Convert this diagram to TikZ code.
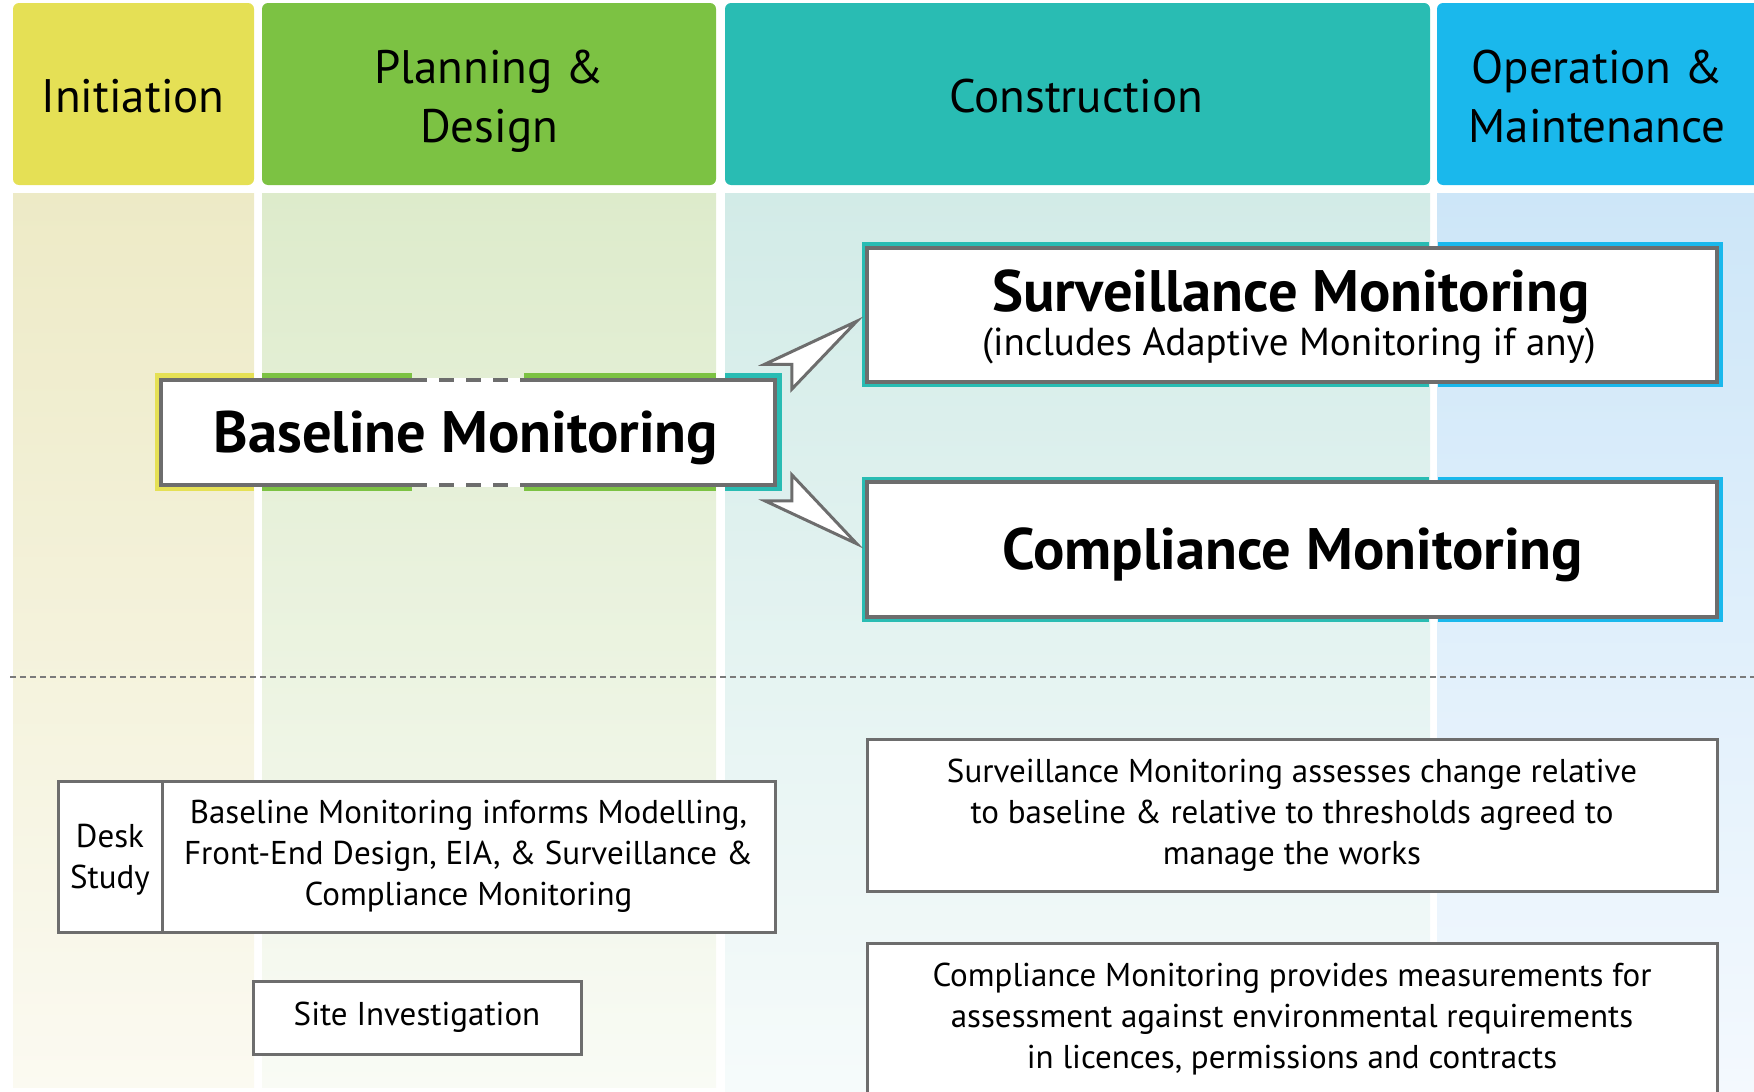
\documentclass[tikz,border=0pt]{standalone}
\usepackage{fontspec}
\setmainfont{PT Sans}
\usetikzlibrary{calc}

% phase colours
\definecolor{cInit}{HTML}{E5E055}
\definecolor{cPlan}{HTML}{7CC243}
\definecolor{cCons}{HTML}{29BCB3}
\definecolor{cOper}{HTML}{1AB8EC}
% column washes (top / bottom)
\definecolor{wInitT}{HTML}{EDEAC6}
\definecolor{wInitB}{HTML}{FBFAF1}
\definecolor{wPlanT}{HTML}{DDEBCB}
\definecolor{wPlanB}{HTML}{F9FBF5}
\definecolor{wConsT}{HTML}{D2EBE7}
\definecolor{wConsB}{HTML}{F6FBFB}
\definecolor{wOperT}{HTML}{CDE6F8}
\definecolor{wOperB}{HTML}{F4F9FE}
\definecolor{edge}{HTML}{6D6D6D}
\definecolor{rule}{HTML}{7A7A7A}

\newcommand\hdrsize{\fontsize{47}{59}\selectfont}
\newcommand\ttlsize{\fontsize{58.5}{66}\selectfont\bfseries}
\newcommand\subsize{\fontsize{39}{46}\selectfont}
\newcommand\txtsize{\fontsize{33}{41}\selectfont}

\begin{document}
\begin{tikzpicture}[x=1pt,y=-1pt,
  hdr/.style={rounded corners=6pt, minimum height=182, inner sep=0pt,
              align=center, font=\hdrsize, text=black},
  hdrtext/.style={align=center, font=\hdrsize, inner sep=0pt},
  box/.style={draw=edge, line width=3.5pt, fill=white, inner sep=0pt},
  notebox/.style={draw=edge, line width=3pt, fill=white, inner sep=0pt,
                  align=center, font=\txtsize},
  title/.style={anchor=base, inner sep=0pt, font=\ttlsize},
  subtitle/.style={anchor=base, inner sep=0pt, font=\subsize},
  pointer/.style={draw=edge, line width=3pt, fill=white, line join=miter}
]
\useasboundingbox (0,0) rectangle (1754,1092);
\clip (0,0) rectangle (1754,1092);

% column washes
\shade[top color=wInitT, bottom color=wInitB] (13,193) rectangle (254,1087);
\shade[top color=wPlanT, bottom color=wPlanB] (262,193) rectangle (716,1087);
\shade[top color=wConsT, bottom color=wConsB] (725,193) rectangle (1430,1092);
\shade[top color=wOperT, bottom color=wOperB] (1437,193) rectangle (1754,1092);

% phase headers
\node[hdr, fill=cInit, minimum width=241] (hInit) at (133.5,94) {};
\node[hdrtext] (hInitT) at (133,96) {Initiation};
\node[hdr, fill=cPlan, minimum width=454] (hPlan) at (489,94) {};
\node[hdrtext] (hPlanT) at (489,101) {Planning \&\\Design};
\node[hdr, fill=cCons, minimum width=705] (hCons) at (1077.5,94) {};
\node[hdrtext] (hConsT) at (1076,96) {Construction};
\node[hdr, fill=cOper, minimum width=330] (hOper) at (1602,94) {};
\node[hdrtext] (hOperT) at (1597,97) {Operation \&\\Maintenance};

% divider between monitoring stages and notes
\coordinate (ruleL) at (10,677);
\coordinate (ruleR) at (1754,677);
\draw[rule, line width=2pt, dash pattern=on 6pt off 4pt] (ruleL) -- (ruleR);

% coloured frames behind the monitoring boxes
\fill[cInit] (155,373) rectangle (254,491);
\fill[cPlan] (262,373) rectangle (412,491);
\fill[cPlan] (524,373) rectangle (716,491);
\fill[cCons] (725,373) rectangle (782,491);

\fill[cCons] (862,242) rectangle (1429,387);
\fill[cOper] (1438,242) rectangle (1723,387);
\fill[cCons] (862,477) rectangle (1429,622);
\fill[cOper] (1438,477) rectangle (1723,622);

% monitoring boxes
\node[box, minimum width=614, minimum height=105] (base) at (468,432.5) {};
\draw[white, line width=3.6pt] (412,380) -- (524,380) (412,485) -- (524,485);
\draw[edge, line width=3.5pt, dash pattern=on 15pt off 12pt]
  (412,380) -- (524,380) (412,485) -- (524,485);
\node[title] (baseT) at (466,452) {Baseline Monitoring};

\node[box, minimum width=850, minimum height=134] (surv) at (1292,315) {};
\node[title] (survT) at (1291,311) {Surveillance Monitoring};
\node[subtitle] (survS) at (1289,355) {(includes Adaptive Monitoring if any)};

\node[box, minimum width=850, minimum height=135] (comp) at (1292,549.5) {};
\node[title] (compT) at (1293,569) {Compliance Monitoring};

% pointers from baseline to the two construction-stage activities
\draw[pointer] ($(base.north east)+(80,-57)$) -- ($(base.north east)+(-12,-14)$)
  -- ($(base.north east)+(15,-14)$) -- ($(base.north east)+(15,11)$) -- cycle;
\draw[pointer] ($(base.south east)+(80,57)$) -- ($(base.south east)+(-12,14)$)
  -- ($(base.south east)+(15,14)$) -- ($(base.south east)+(15,-12)$) -- cycle;

% notes
\node[notebox, minimum width=104, minimum height=151] (deskL) at (110,856.5) {};
\node[align=center, font=\txtsize, inner sep=0pt] (deskT) at (110,860) {Desk\\Study};
\node[notebox, minimum width=613, minimum height=151] (deskR) at (468.5,856.5)
  {Baseline Monitoring informs Modelling,\\Front-End Design, EIA, \& Surveillance \&\\Compliance Monitoring};
\node[notebox, minimum width=328, minimum height=73] (site) at (417,1017.5) {Site Investigation};
\node[notebox, minimum width=850, minimum height=152] (survN) at (1292,815)
  {Surveillance Monitoring assesses change relative\\to baseline \& relative to thresholds agreed to\\manage the works};
\node[notebox, minimum width=850, minimum height=152] (compN) at (1292,1019)
  {Compliance Monitoring provides measurements for\\assessment against environmental requirements\\in licences, permissions and contracts};
\end{tikzpicture}
\end{document}
